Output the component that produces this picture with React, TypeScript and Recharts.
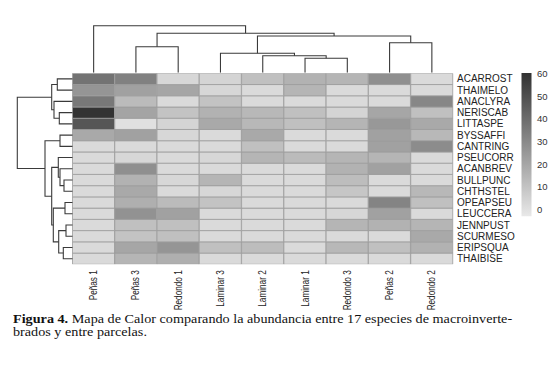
import React from 'react';
import { BarChart, Bar, Cell, XAxis, YAxis, ScatterChart, Scatter } from 'recharts';

const columns = ['Peñas 1', 'Peñas 3', 'Redondo 1', 'Laminar 3', 'Laminar 2', 'Laminar 1', 'Redondo 3', 'Peñas 2', 'Redondo 2'];
const species = ['ACARROST', 'THAIMELO', 'ANACLYRA', 'NERISCAB', 'LITTASPE', 'BYSSAFFI', 'CANTRING', 'PSEUCORR', 'ACANBREV', 'BULLPUNC', 'CHTHSTEL', 'OPEAPSEU', 'LEUCCERA', 'JENNPUST', 'SCURMESO', 'ERIPSQUA', 'THAIBISE'];

// abundance[species][column]
const abundance = [
  [38, 33, 3, 4, 11, 16, 15, 28, 2],
  [26, 22, 20, 3, 2, 15, 2, 2, 2],
  [36, 13, 2, 10, 2, 2, 2, 2, 31],
  [60, 21, 10, 16, 14, 11, 4, 20, 11],
  [48, 0, 4, 19, 14, 11, 15, 25, 19],
  [19, 22, 3, 2, 19, 2, 2, 22, 14],
  [2, 2, 2, 2, 11, 2, 2, 22, 29],
  [2, 3, 2, 3, 15, 13, 15, 15, 2],
  [2, 28, 2, 2, 2, 2, 16, 22, 2],
  [2, 16, 3, 15, 2, 2, 12, 2, 2],
  [2, 19, 2, 3, 2, 2, 9, 2, 14],
  [2, 17, 13, 10, 2, 2, 2, 32, 11],
  [2, 27, 22, 2, 2, 2, 3, 22, 2],
  [2, 11, 11, 2, 2, 2, 15, 16, 15],
  [2, 10, 11, 2, 2, 2, 2, 2, 19],
  [2, 20, 26, 11, 12, 2, 14, 11, 16],
  [2, 15, 17, 2, 2, 2, 2, 2, 2],
];

// linkage: [childA, childB, height]; leaves 0..n-1, merge k = n+k
const colLinkage = [
  [1, 2, 26],
  [5, 6, 14.4],
  [4, 10, 17],
  [3, 11, 19.4],
  [7, 8, 30],
  [12, 13, 36.7],
  [9, 14, 39.4],
  [0, 15, 47],
];
const rowLinkage = [
  [0, 1, 15.4],
  [3, 4, 13.4],
  [2, 18, 18.7],
  [17, 19, 21],
  [5, 6, 12.7],
  [9, 10, 8.7],
  [8, 22, 12.7],
  [7, 23, 14.4],
  [11, 12, 7.7],
  [13, 14, 6.7],
  [15, 16, 9.4],
  [26, 27, 14],
  [25, 28, 19.4],
  [24, 29, 21],
  [21, 30, 27.7],
  [20, 31, 55.4],
];

const colorbarTicks = [0, 10, 20, 30, 40, 50, 60];
const colorbarRange = [-3.2, 60.3];

const captionBold = 'Figura 4.';
const captionLine1 = ' Mapa de Calor comparando la abundancia entre 17 especies de macroinverte-';
const captionLine2 = 'brados y entre parcelas.';

function shade(v: number) {
  const g = Math.max(0, Math.min(255, Math.round(224 - 2.88 * v)));
  const h = g.toString(16).padStart(2, '0');
  return `#${h}${h}${h}`;
}

function buildSegments(linkage: number[][], n: number) {
  const pos: number[] = [];
  const hgt: number[] = [];
  for (let i = 0; i < n; i++) { pos[i] = i + 0.5; hgt[i] = 0; }
  return linkage.map(([a, b, h], k) => {
    const pts = [
      { p: pos[a], d: hgt[a] },
      { p: pos[a], d: h },
      { p: pos[b], d: h },
      { p: pos[b], d: hgt[b] },
    ];
    pos[n + k] = (pos[a] + pos[b]) / 2;
    hgt[n + k] = h;
    return pts;
  });
}

const nR = species.length;
const heatData = columns.map((col) => {
  const row: any = { col };
  species.forEach((_, r) => { row['r' + r] = 1; });
  return row;
});
const rowTicks = species.map((_, r) => nR - r - 0.5);
const stackOrder = species.map((_, r) => nR - 1 - r);

const colSegs = buildSegments(colLinkage, columns.length).map((s) => s.map((q) => ({ x: q.p, y: q.d })));
const rowSegs = buildSegments(rowLinkage, nR).map((s) => s.map((q) => ({ x: q.d, y: q.p })));

const SANS = 'Liberation Sans, Arial, Helvetica, sans-serif';
const SERIF = '"Liberation Serif", "Times New Roman", serif';
const LINE = { stroke: '#3a3a3a', strokeWidth: 1.1 };
const noShape = () => <g />;

const CAPTION_WIDTH = 501;
function captionFontSize() {
  try {
    const ctx = document.createElement('canvas').getContext('2d');
    if (!ctx) return 13;
    ctx.font = `bold 13px ${SERIF}`;
    const wb = ctx.measureText(captionBold).width;
    ctx.font = `13px ${SERIF}`;
    const wr = ctx.measureText(captionLine1).width;
    const fs = (13 * CAPTION_WIDTH) / (wb + wr);
    return Math.max(11, Math.min(15, fs - 0.05));
  } catch (e) {
    return 13;
  }
}

function ColTick(props: any) {
  const { x, y, payload } = props;
  return (
    <g transform={`translate(${x},${y}) rotate(-90) scale(0.82,1)`}>
      <text x={0} y={0} dy="0.35em" textAnchor="end" fontSize={10} fill="#222" fontFamily={SANS}>
        {payload.value}
      </text>
    </g>
  );
}

export default function App() {
  const fs = captionFontSize();
  const sy = 0.86;
  const lh = 12.6 / sy;
  return (
    <div style={{ position: 'absolute', left: 0, top: 0, width: 560, height: 365, background: '#fff', overflow: 'hidden' }}>
      <div style={{ position: 'absolute', left: 0, top: 0 }}>
        <BarChart width={560} height={365} data={heatData} margin={{ top: 73.3, right: 7, bottom: 40.7, left: 72.5 }} barCategoryGap={0} barGap={0}>
          <XAxis dataKey="col" interval={0} tickLine={false} axisLine={false} tickSize={0} tickMargin={6} height={60} tick={ColTick} />
          <YAxis
            orientation="right"
            type="number"
            domain={[0, nR]}
            allowDataOverflow
            ticks={rowTicks}
            interval={0}
            width={100}
            axisLine={false}
            tickLine={false}
            tickSize={0}
            tickMargin={4}
            tickFormatter={(v: number) => species[nR - 1 - Math.floor(v)]}
            tick={{ fontSize: 10, fill: '#222', fontFamily: SANS }}
          />
          {stackOrder.map((r) => (
            <Bar key={species[r]} dataKey={'r' + r} stackId="h" isAnimationActive={false}>
              {columns.map((c, ci) => (
                <Cell key={c} fill={shade(abundance[r][ci])} stroke="#9c9c9c" strokeWidth={0.8} />
              ))}
            </Bar>
          ))}
        </BarChart>
      </div>

      <div style={{ position: 'absolute', left: 0, top: 0 }}>
        <ScatterChart width={560} height={80} margin={{ top: 22.7, right: 107, bottom: 7.3, left: 72.5 }}>
          <XAxis type="number" dataKey="x" domain={[0, columns.length]} allowDataOverflow hide />
          <YAxis type="number" dataKey="y" domain={[0, 50]} allowDataOverflow hide />
          {colSegs.map((seg, i) => (
            <Scatter key={i} data={seg} line={LINE} lineType="joint" shape={noShape} isAnimationActive={false} />
          ))}
        </ScatterChart>
      </div>

      <div style={{ position: 'absolute', left: 0, top: 0 }}>
        <ScatterChart width={80} height={365} margin={{ top: 73.3, right: 7.3, bottom: 100.7, left: 12.7 }}>
          <XAxis type="number" dataKey="x" domain={[0, 60]} reversed allowDataOverflow hide />
          <YAxis type="number" dataKey="y" domain={[0, nR]} reversed allowDataOverflow hide />
          {rowSegs.map((seg, i) => (
            <Scatter key={i} data={seg} line={LINE} lineType="joint" shape={noShape} isAnimationActive={false} />
          ))}
        </ScatterChart>
      </div>

      <div style={{ position: 'absolute', left: 500, top: 0 }}>
        <BarChart width={70} height={365} data={[{ name: 'escala', range: colorbarRange }]} margin={{ top: 73, right: 8.5, bottom: 148.4, left: 21.5 }} barCategoryGap={0}>
          <defs>
            <linearGradient id="cbar" x1="0" y1="0" x2="0" y2="1">
              <stop offset="0" stopColor={shade(colorbarRange[1])} />
              <stop offset="1" stopColor={shade(colorbarRange[0])} />
            </linearGradient>
          </defs>
          <XAxis dataKey="name" hide />
          <YAxis
            orientation="right"
            type="number"
            domain={colorbarRange}
            allowDataOverflow
            ticks={colorbarTicks}
            interval={0}
            width={30}
            axisLine={false}
            tickLine={false}
            tickSize={0}
            tickMargin={5.5}
            tick={{ fontSize: 9.5, fill: '#333', fontFamily: SANS }}
          />
          <Bar dataKey="range" fill="url(#cbar)" isAnimationActive={false} />
        </BarChart>
      </div>

      <div
        style={{
          position: 'absolute',
          left: 13,
          top: 323 - (fs * 0.891 + (lh - fs * 1.107) / 2) * sy,
          width: CAPTION_WIDTH + 20,
          fontFamily: SERIF,
          fontSize: fs,
          lineHeight: `${lh}px`,
          color: '#111',
          whiteSpace: 'nowrap',
          transform: `scale(1,${sy})`,
          transformOrigin: '0 0',
        }}
      >
        <div>
          <b>{captionBold}</b>{captionLine1}
        </div>
        <div>{captionLine2}</div>
      </div>
    </div>
  );
}
